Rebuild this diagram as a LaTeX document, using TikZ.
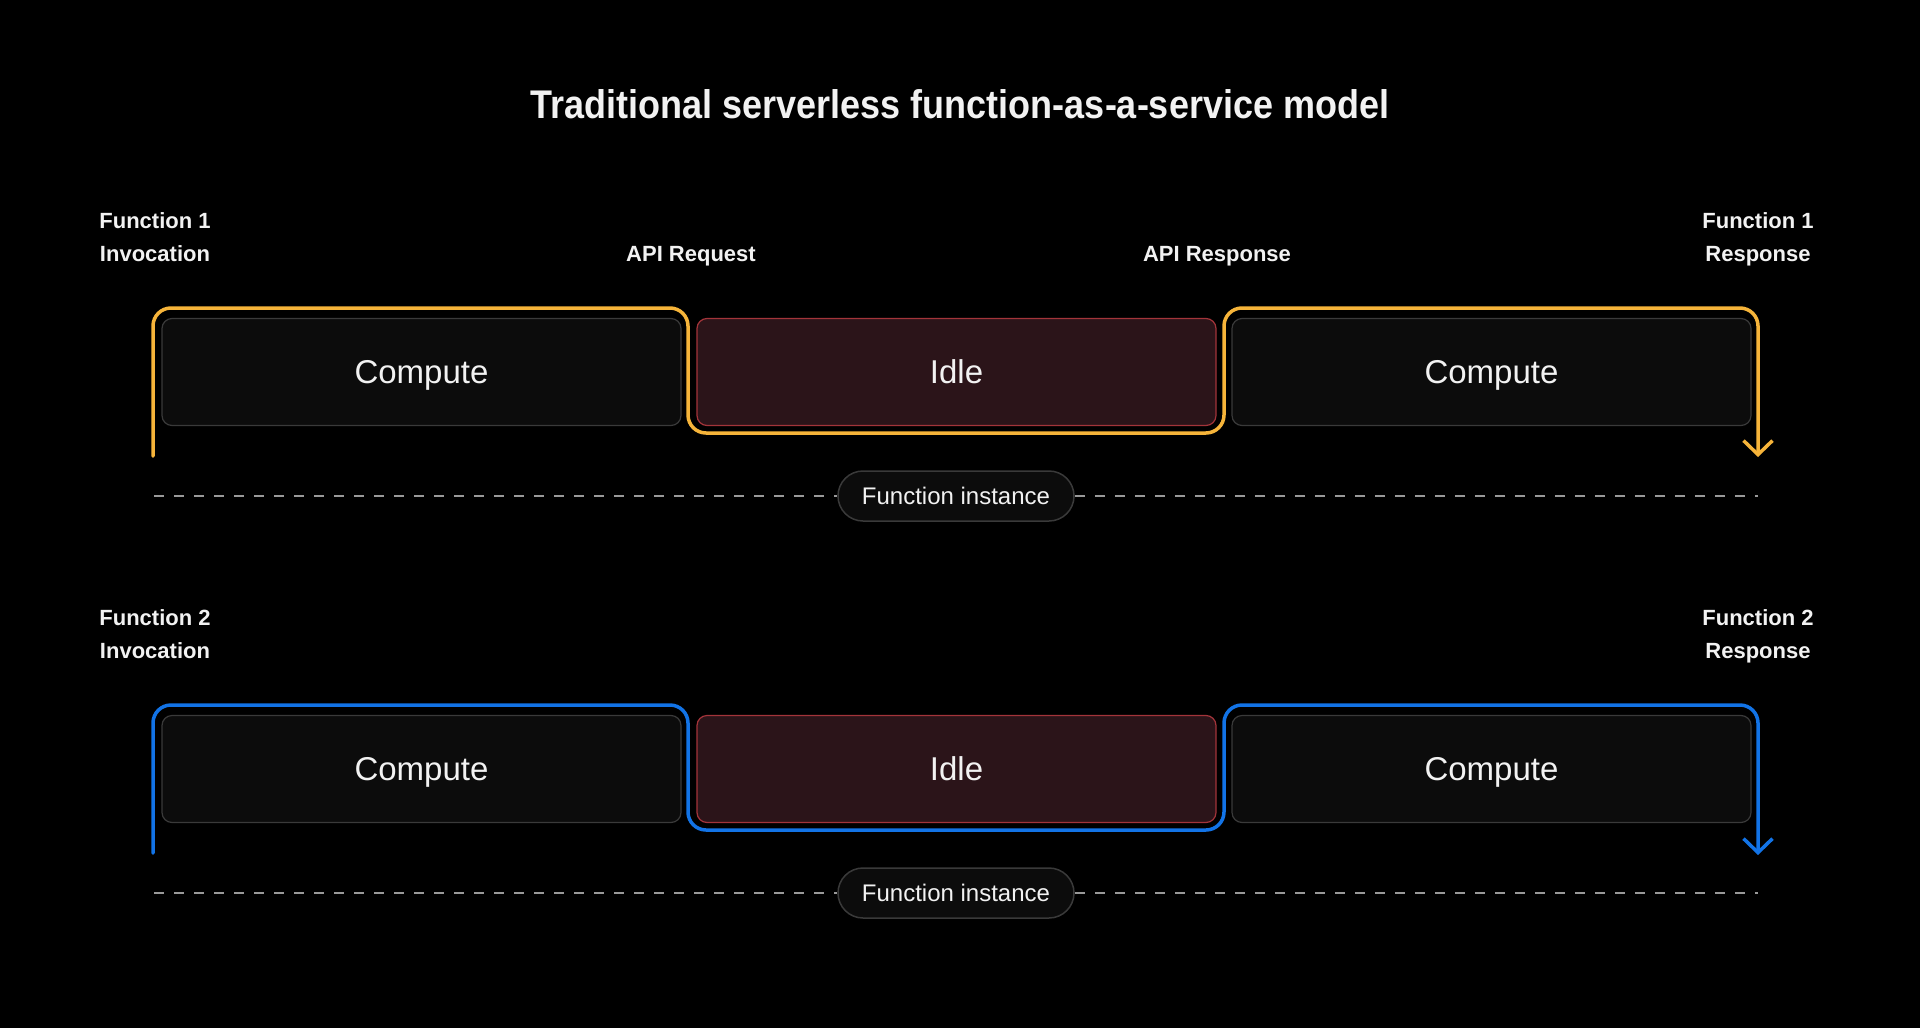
\documentclass[tikz,border=0pt]{standalone}
\usepackage{fontspec}
\setmainfont{Liberation Sans}
\newfontfamily\labelfont{Liberation Sans}
\newfontfamily\titlefont{Liberation Sans}[FakeStretch=0.9]
\usetikzlibrary{calc,arrows.meta}

\definecolor{fnyellow}{HTML}{F6B43A}
\definecolor{fnblue}{HTML}{1273E6}
\definecolor{boxfill}{HTML}{0C0C0C}
\definecolor{boxline}{HTML}{3A3A3A}
\definecolor{idlefill}{HTML}{2B1419}
\definecolor{idleline}{HTML}{A3343A}
\definecolor{dashgray}{HTML}{999999}
\definecolor{textwhite}{HTML}{F2F2F2}

\begin{document}
\begin{tikzpicture}[x=1pt, y=-1pt,
  compute/.style={draw=boxline, fill=boxfill, line width=1.2pt, rounded corners=10pt,
    minimum width=519pt, minimum height=107pt, inner sep=0pt, text=textwhite,
    text height=23.6pt, text depth=0pt, font=\fontsize{33}{40}\selectfont},
  idle/.style={compute, draw=idleline, fill=idlefill},
  pill/.style={draw=boxline, fill=boxfill, line width=1.5pt, rounded corners=25pt,
    minimum width=236pt, minimum height=50pt, inner sep=0pt, text=textwhite,
    text height=17.2pt, text depth=0pt, font=\fontsize{24}{28}\selectfont},
  lbl/.style={text=textwhite, align=center, inner sep=0pt, text depth=0pt,
    font=\labelfont\bfseries\fontsize{22}{33}\selectfont},
  bracket/.style={line width=3.5pt, rounded corners=18pt, line cap=round,
    -{Straight Barb[length=14pt, width=29pt, line width=3.5pt]}},
  dashline/.style={dashgray, line width=1.8pt, dash pattern=on 10pt off 10pt}]
  % page, in pixels
  \fill[black] (0,0) rectangle (1920,1028);
  \useasboundingbox (0,0) rectangle (1920,1028);

  \node[text=textwhite, anchor=base, font=\titlefont\bfseries\fontsize{40}{48}\selectfont] (title) at (960,118)
    {Traditional serverless function-as-a-service model};

  % ---- function 1 ----
  \node[compute] (c1a) at (421.5,372) {Compute};
  \node[idle]    (i1)  at (956.5,372) {Idle};
  \node[compute] (c1b) at (1491.5,372) {Compute};

  \coordinate (inv1) at (153,456);
  \coordinate (k1a) at (688,308);   % over the first compute
  \coordinate (k1b) at (1224,433);  % under idle
  \coordinate (k1c) at (1758,308);
  \coordinate (res1) at (1758,457);
  \draw[bracket, fnyellow] (inv1) |- (k1a) |- (k1b) |- (k1c) -- (res1);

  \node[pill] (fi1) at (956,496) {Function instance};
  \coordinate (d1s) at (154,496);
  \coordinate (d1e) at (1758,496);
  \draw[dashline] (d1s) -- (fi1.west);
  \draw[dashline] (fi1.east) -- (d1e);

  \node[lbl] (inv1lbl) at (155,237) {Function 1\\Invocation};
  \node[lbl] (res1lbl) at (1758,237) {Function 1\\Response};
  \node[lbl, anchor=base] (apireq) at (691,261) {API Request};
  \node[lbl, anchor=base] (apires) at (1217,261) {API Response};

  % ---- function 2 (397 lower) ----
  \node[compute] (c2a) at (421.5,769) {Compute};
  \node[idle]    (i2)  at (956.5,769) {Idle};
  \node[compute] (c2b) at (1491.5,769) {Compute};

  \coordinate (inv2) at (153,853);
  \coordinate (k2a) at (688,705);
  \coordinate (k2b) at (1224,830);
  \coordinate (k2c) at (1758,705);
  \coordinate (res2) at (1758,855);
  \draw[bracket, fnblue] (inv2) |- (k2a) |- (k2b) |- (k2c) -- (res2);

  \node[pill] (fi2) at (956,893) {Function instance};
  \coordinate (d2s) at (154,893);
  \coordinate (d2e) at (1758,893);
  \draw[dashline] (d2s) -- (fi2.west);
  \draw[dashline] (fi2.east) -- (d2e);

  \node[lbl] (inv2lbl) at (155,634) {Function 2\\Invocation};
  \node[lbl] (res2lbl) at (1758,634) {Function 2\\Response};
\end{tikzpicture}
\end{document}
